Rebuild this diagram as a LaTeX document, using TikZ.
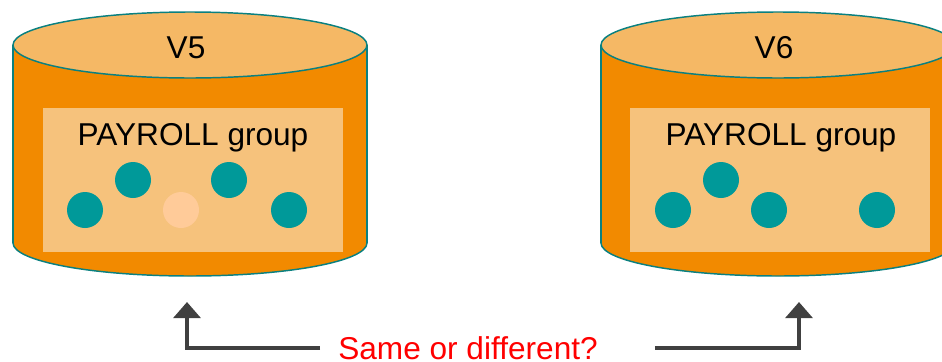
\documentclass[tikz,border=0pt]{standalone}
\usepackage{fontspec}
\setmainfont{Liberation Sans}
\usetikzlibrary{shapes.geometric, arrows.meta, positioning, calc}
\definecolor{drumbody}{HTML}{F28A00}
\definecolor{drumtop}{HTML}{F5B865}
\definecolor{drumedge}{HTML}{0A8080}
\definecolor{groupbox}{HTML}{F6C27C}
\definecolor{member}{HTML}{009999}
\definecolor{gone}{HTML}{FFCB99}
\definecolor{arrowgray}{HTML}{404040}
\tikzset{
  drumend/.style={ellipse, draw=drumedge, line width=1.1pt, minimum width=265.5pt, minimum height=49.5pt, inner sep=0pt, outer sep=0pt},
  drumtop/.style={drumend, fill=drumtop},
  drumfoot/.style={drumend, fill=drumbody},
  drumbody/.style={fill=drumbody, draw=none},
  drumside/.style={draw=drumedge, line width=1.1pt},
  groupbox/.style={fill=groupbox, minimum width=225pt, minimum height=108pt, inner sep=0pt, outer sep=0pt},
  member/.style={circle, fill=member, minimum size=27pt, inner sep=0pt},
  gone/.style={member, fill=gone},
  label/.style={font=\fontsize{23.7}{27}\selectfont, inner sep=0pt},
  ask/.style={font=\fontsize{23.7}{27}\selectfont, text=red, inner sep=0pt},
  askline/.style={draw=arrowgray, line width=3.4pt, -{Triangle[length=12pt,width=20pt]}}
}
\begin{document}
\begin{tikzpicture}[x=0.75pt, y=-0.75pt]
\useasboundingbox (0,0) rectangle (942,361);
\clip (0,0) rectangle (942,361);
% V5 drum
\node[drumfoot] (v5foot) at (190,243) {};
\fill[drumbody] (v5foot.west) rectangle (v5foot.east |- 0,45);
\node[drumtop] (v5top) at (190,45) {};
\draw[drumside] (v5top.west) -- (v5foot.west);
\draw[drumside] (v5top.east) -- (v5foot.east);
\node[label] (v5name) at (186,48) {V5};
\node[groupbox] (v5box) at (193,180) {};
\node[label] (v5group) at (193,138) {PAYROLL group};
\node[member] (v5a) at (85,210) {};
\node[member] (v5b) at (133,180) {};
\node[gone] (v5c) at (181,210) {};
\node[member] (v5d) at (229,180) {};
\node[member] (v5e) at (289,210) {};
% V6 drum
\node[drumfoot] (v6foot) at (778,243) {};
\fill[drumbody] (v6foot.west) rectangle (v6foot.east |- 0,45);
\node[drumtop] (v6top) at (778,45) {};
\draw[drumside] (v6top.west) -- (v6foot.west);
\draw[drumside] (v6top.east) -- (v6foot.east);
\node[label] (v6name) at (774,48) {V6};
\node[groupbox] (v6box) at (780,180) {};
\node[label] (v6group) at (781,138) {PAYROLL group};
\node[member] (v6a) at (673,210) {};
\node[member] (v6b) at (721,180) {};
\node[member] (v6c) at (769,210) {};
\node[member] (v6e) at (877,210) {};
% Question
\node[ask] (ask) at (468,348) {Same or different?};
\coordinate (v5tip) at (187,302);
\coordinate (v6tip) at (799,302);
\draw[askline, shorten <=13.5pt] (ask.west) -| (v5tip);
\draw[askline, shorten <=42.75pt] (ask.east) -| (v6tip);
\end{tikzpicture}
\end{document}
